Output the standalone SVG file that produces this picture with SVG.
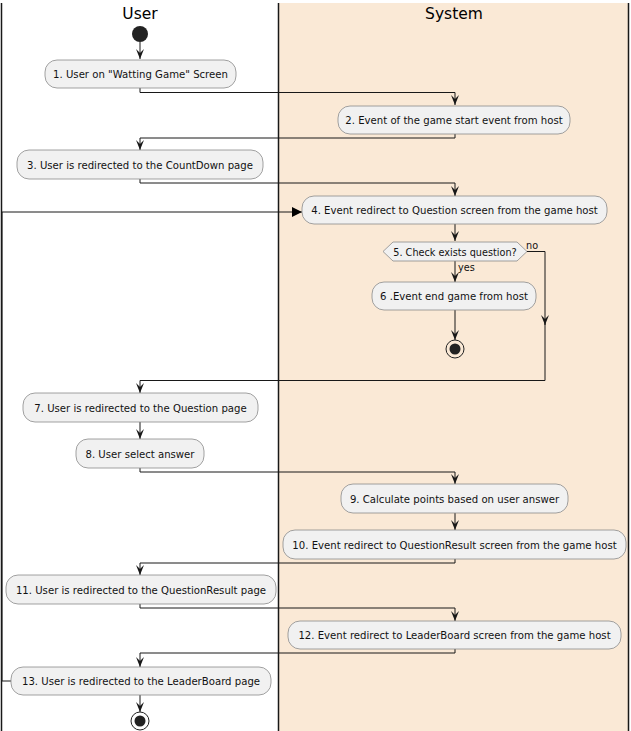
<svg xmlns="http://www.w3.org/2000/svg" width="631" height="731" viewBox="0 0 631 731">
<defs>
<style>
.lane{stroke:#181818;stroke-width:1.5;fill:none}
.title{font-family:"DejaVu Sans",sans-serif;font-size:15.5px;fill:#000;text-anchor:middle}
.node rect{fill:#F1F1F1;stroke:#8a8a8a;stroke-width:0.8}
.node polygon{fill:#F1F1F1;stroke:#8a8a8a;stroke-width:0.8}
.node text{font-family:"DejaVu Sans",sans-serif;font-size:10.15px;fill:#111;text-anchor:middle}
.lbl{font-family:"DejaVu Sans",sans-serif;font-size:9.7px;fill:#111}
.edge{stroke:#181818;stroke-width:1;fill:none}
</style>
<marker id="ah" viewBox="0 0 10 10" refX="10" refY="5" markerWidth="10" markerHeight="10" markerUnits="userSpaceOnUse" orient="auto">
<path d="M0,1 L10,5 L0,9 L4,5 Z" fill="#181818"/>
</marker>
<marker id="ahf" viewBox="0 0 10 10" refX="10" refY="5" markerWidth="10" markerHeight="10" markerUnits="userSpaceOnUse" orient="auto">
<path d="M0,0 L10,5 L0,10 Z" fill="#000"/>
</marker>
</defs>
<rect x="0" y="0" width="631" height="731" fill="#fff"/>
<g id="lanes">
<rect x="279" y="3" width="349" height="728" fill="#FAE9D6"/>
<line class="lane" x1="1.5" y1="3" x2="1.5" y2="731" stroke="#777"/>
<line class="lane" x1="278.5" y1="3" x2="278.5" y2="731"/>
<line class="lane" x1="628.5" y1="3" x2="628.5" y2="731"/>
<text class="title" x="140" y="19">User</text>
<text class="title" x="454" y="19">System</text>
</g>
<g id="connectors">
<path class="edge" d="M140,42 V59" marker-end="url(#ah)"/>
<path class="edge" d="M140,88 V92.5 H455 V105" marker-end="url(#ah)"/>
<path class="edge" d="M455,134 V138 H140 V150" marker-end="url(#ah)"/>
<path class="edge" d="M140,179 V183 H455 V196" marker-end="url(#ah)"/>
<path class="edge" d="M11,681 H2 V212 H302" stroke-width="1.5" marker-end="url(#ahf)"/>
<path class="edge" d="M455,224 V241" marker-end="url(#ah)"/>
<path class="edge" d="M455,261 V282" marker-end="url(#ah)"/>
<path class="edge" d="M455,310 V340" marker-end="url(#ah)"/>
<path class="edge" d="M527,251.5 H545 V325" marker-end="url(#ah)"/>
<path class="edge" d="M545,320 V380.5 H140 V393" marker-end="url(#ah)"/>
<path class="edge" d="M140,422 V439" marker-end="url(#ah)"/>
<path class="edge" d="M140,468 V472 H455 V484" marker-end="url(#ah)"/>
<path class="edge" d="M455,513 V530" marker-end="url(#ah)"/>
<path class="edge" d="M455,559 V563 H140 V575" marker-end="url(#ah)"/>
<path class="edge" d="M140,604 V608 H455 V621" marker-end="url(#ah)"/>
<path class="edge" d="M455,649 V653 H140 V667" marker-end="url(#ah)"/>
<path class="edge" d="M140,695 V712" marker-end="url(#ah)"/>
<text class="lbl" x="526" y="249">no</text>
<text class="lbl" x="458" y="271">yes</text>
</g>
<g id="start"><circle cx="140" cy="34" r="8" fill="#222"/></g>
<g id="n1" class="node"><rect x="45" y="60" width="191" height="28" rx="12"/><text x="140.5" y="78">1. User on "Watting Game" Screen</text></g>
<g id="n2" class="node"><rect x="338" y="106" width="232" height="28" rx="12"/><text x="454" y="124">2. Event of the game start event from host</text></g>
<g id="n3" class="node"><rect x="17" y="150" width="246" height="29" rx="12"/><text x="140" y="169">3. User is redirected to the CountDown page</text></g>
<g id="n4" class="node"><rect x="302" y="196" width="305" height="28" rx="12"/><text x="454.5" y="214">4. Event redirect to Question screen from the game host</text></g>
<g id="n5" class="node"><polygon points="383,251.5 393,242 517,242 527,251.5 517,261 393,261"/><text x="455" y="255.5" style="font-size:9.7px">5. Check exists question?</text></g>
<g id="n6" class="node"><rect x="372" y="282" width="164" height="28" rx="12"/><text x="454" y="300">6 .Event end game from host</text></g>
<g id="end1"><circle cx="455" cy="349" r="9" fill="none" stroke="#222" stroke-width="1"/><circle cx="455" cy="349" r="5.5" fill="#222"/></g>
<g id="n7" class="node"><rect x="23" y="393" width="235" height="29" rx="12"/><text x="140.5" y="412">7. User is redirected to the Question page</text></g>
<g id="n8" class="node"><rect x="76" y="439" width="128" height="29" rx="12"/><text x="140" y="458">8. User select answer</text></g>
<g id="n9" class="node"><rect x="341" y="484" width="227" height="29" rx="12"/><text x="454.5" y="503">9. Calculate points based on user answer</text></g>
<g id="n10" class="node"><rect x="283" y="530" width="343" height="29" rx="12"/><text x="454.5" y="549">10. Event redirect to QuestionResult screen from the game host</text></g>
<g id="n11" class="node"><rect x="6" y="575" width="270" height="29" rx="12"/><text x="141" y="594">11. User is redirected to the QuestionResult page</text></g>
<g id="n12" class="node"><rect x="288" y="621" width="333" height="28" rx="12"/><text x="454.5" y="639">12. Event redirect to LeaderBoard screen from the game host</text></g>
<g id="n13" class="node"><rect x="11" y="667" width="260" height="28" rx="12"/><text x="141" y="685">13. User is redirected to the LeaderBoard page</text></g>
<g id="end2"><circle cx="140" cy="721" r="9" fill="none" stroke="#222" stroke-width="1"/><circle cx="140" cy="721" r="5.5" fill="#222"/></g>
</svg>
